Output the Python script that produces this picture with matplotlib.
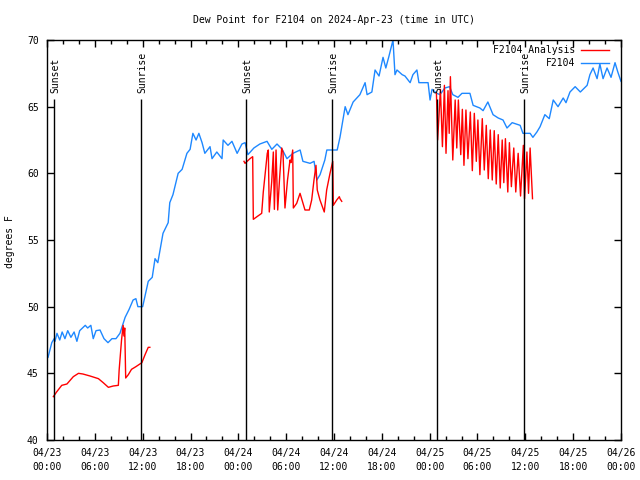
import numpy as np
import matplotlib
matplotlib.use("Agg")
import matplotlib.pyplot as plt

# ---------------- data ----------------
title = "Dew Point for F2104 on 2024-Apr-23 (time in UTC)"
ylabel = "degrees F"

# hours since 2024-04-23 00:00 UTC
obs_hours = [0.13, 0.6, 0.9, 1.0, 1.25, 1.6, 1.9, 2.25, 2.6, 3.0, 3.4, 3.75, 4.1, 4.8, 5.1, 5.5,
             5.8, 6.15, 6.65, 7.15, 7.65, 8.15, 8.65, 9.15, 9.8, 10.3, 10.8, 11.15, 11.4, 12.0,
             12.7, 13.2, 13.55, 13.9, 14.55, 15.2, 15.4, 15.8, 16.45, 16.95, 17.55, 17.95, 18.3,
             18.7, 19.05, 19.45, 19.8, 20.45, 20.7, 21.3, 21.95, 22.1, 22.7, 23.2, 23.85, 24.45,
             24.85, 25.2, 25.95, 26.7, 27.6, 28.2, 28.85, 29.5, 30.1, 30.85, 31.75, 32.1, 33.0,
             33.5, 33.85, 34.25, 34.85, 35.1, 36.4, 36.75, 37.0, 37.4, 37.75, 38.4, 39.25, 39.9,
             40.15, 40.75, 41.15, 41.65, 42.15, 42.5, 42.9, 43.4, 43.65, 43.9, 44.55, 44.9, 45.55,
             45.9, 46.4, 46.65, 47.8, 48.05, 48.3, 48.9, 49.3, 49.9, 50.5, 50.9, 51.55, 52.05,
             53.05, 53.45, 54.3, 54.7, 55.3, 55.95, 56.6, 57.2, 57.7, 58.35, 59.35, 59.7, 60.6,
             60.95, 61.45, 61.85, 62.45, 63.0, 63.5, 64.1, 64.75, 65.1, 65.6, 66.25, 66.9, 67.75,
             68.1, 68.5, 69.0, 69.35, 69.75, 70.25, 70.75, 71.25, 71.6, 72.0]
obs_vals = [46.2, 47.3, 47.6, 47.4, 48.0, 47.5, 48.1, 47.6, 48.2, 47.7, 48.1, 47.4, 48.2, 48.6, 48.4, 48.6,
            47.6, 48.2, 48.25, 47.6, 47.3, 47.6, 47.6, 48.0, 49.2, 49.8, 50.5, 50.6, 50.0, 50.0,
            51.9, 52.2, 53.6, 53.3, 55.5, 56.3, 57.8, 58.4, 60.0, 60.3, 61.5, 61.8, 63.0,
            62.5, 63.0, 62.3, 61.5, 62.0, 61.1, 61.6, 61.1, 62.5, 62.1, 62.4, 61.5, 62.2,
            62.3, 61.4, 61.9, 62.2, 62.4, 61.8, 62.2, 61.8, 61.1, 61.5, 61.75, 60.9, 60.75,
            60.9, 59.5, 59.9, 61.0, 61.75, 61.75, 62.7, 63.6, 65.0, 64.4, 65.35, 65.9, 66.8,
            65.9, 66.1, 67.75, 67.3, 68.7, 67.9, 68.8, 70.0, 67.4, 67.75, 67.4, 67.3, 66.8,
            67.4, 67.75, 66.8, 66.8, 65.5, 66.3, 66.0, 65.9, 66.4, 66.5, 65.9, 65.7, 66.0,
            66.0, 65.1, 64.9, 64.7, 65.35, 64.4, 64.15, 64.0, 63.4, 63.8, 63.6, 63.0, 63.0,
            62.7, 63.1, 63.5, 64.4, 64.1, 65.5, 65.0, 65.65, 65.3, 66.1, 66.5, 66.1, 66.6,
            67.4, 67.9, 67.1, 68.2, 67.1, 67.9, 67.2, 68.3, 67.6, 66.9]

# analysis series, three separate pieces
ana1_hours = [0.8, 1.2, 1.85, 2.5, 3.3, 3.95, 4.5, 5.4, 6.45, 7.05, 7.7, 8.3, 8.95, 9.05,
              9.35, 9.55, 9.65, 9.75, 9.87, 10.2, 10.6, 11.15, 11.9, 12.3, 12.7, 12.9]
ana1_vals = [43.25, 43.6, 44.1, 44.2, 44.75, 45.0, 44.95, 44.8, 44.6, 44.3, 43.95, 44.05, 44.1, 45.25,
             47.5, 48.6, 47.8, 48.4, 44.65, 44.9, 45.3, 45.5, 45.8, 46.4, 46.95, 46.95]

ana2_hours = [24.71, 24.84, 25.46, 25.8, 25.88, 26.34, 26.93, 27.13, 27.63, 27.76, 27.88, 28.19,
              28.39, 28.52, 28.73, 28.94, 29.16, 29.44, 29.6, 29.85, 30.17, 30.48, 30.6, 30.82,
              30.9, 31.32, 31.74, 32.36, 32.9, 33.2, 33.49, 33.74, 33.9, 34.24, 34.78, 35.08,
              35.5, 35.84, 35.91, 36.34, 36.67, 36.75, 36.97]
ana2_vals = [60.9, 60.75, 61.1, 61.25, 56.55, 56.75, 57.0, 58.6, 61.5, 61.75, 57.1, 59.4,
             61.6, 57.3, 61.75, 57.25, 59.5, 61.9, 61.6, 57.4, 59.5, 61.0, 60.8, 61.75,
             57.4, 57.75, 58.5, 57.25, 57.25, 58.0, 59.5, 60.6, 58.75, 58.0, 57.1, 58.75,
             60.0, 60.9, 57.6, 58.0, 58.25, 58.1, 57.9]

ana3_hours = [48.85, 49.0, 49.35, 49.6, 49.85, 50.05, 50.3, 50.45, 50.6, 50.9, 51.2, 51.4, 51.6,
              51.9, 52.1, 52.3, 52.55, 52.8, 53.1, 53.35, 53.6, 53.85, 54.05, 54.3, 54.6, 54.85,
              55.1, 55.35, 55.6, 55.85, 56.1, 56.35, 56.6, 56.85, 57.1, 57.3, 57.5, 57.8, 58.0,
              58.25, 58.55, 58.8, 59.1, 59.4, 59.75, 59.9, 60.2, 60.4, 60.6, 60.9]
ana3_vals = [66.0, 62.5, 66.3, 62.0, 66.6, 61.5, 66.2, 63.0, 67.25, 61.0, 65.5, 61.9, 65.5,
             61.4, 64.8, 60.6, 64.75, 61.1, 64.6, 60.2, 64.5, 60.9, 64.0, 59.9, 64.1, 60.25,
             63.6, 59.6, 63.25, 59.5, 63.2, 59.2, 62.9, 58.9, 62.5, 59.3, 62.6, 58.6, 62.3,
             59.0, 61.9, 58.6, 61.5, 58.3, 62.1, 58.1, 61.6, 58.5, 61.9, 58.1]

sunset_hours = [0.88, 24.95, 48.92]
sunrise_hours = [11.8, 35.75, 59.83]

xtick_hours = list(range(0, 73, 6))
xtick_labels = ["04/23\n00:00", "04/23\n06:00", "04/23\n12:00", "04/23\n18:00",
                "04/24\n00:00", "04/24\n06:00", "04/24\n12:00", "04/24\n18:00",
                "04/25\n00:00", "04/25\n06:00", "04/25\n12:00", "04/25\n18:00",
                "04/26\n00:00"]
ytick_vals = [40, 45, 50, 55, 60, 65, 70]
ytick_labels = ["40", "45", "50", "55", "60", "65", "70"]

legend_labels = ["F2104 Analysis", "F2104"]

# ---------------- style ----------------
plt.rcParams['font.family'] = ['DejaVu Sans Mono']
FS = 7
BLUE = '#1E88FF'
RED = '#FF0000'

fig = plt.figure(figsize=(6.4, 4.8), dpi=100)
ax = fig.add_axes([47/640, 1-440/480, (621-47)/640, 400/480])

ax.plot(obs_hours, obs_vals, color=BLUE, lw=1.0)
for hh, vv in [(ana1_hours, ana1_vals), (ana2_hours, ana2_vals), (ana3_hours, ana3_vals)]:
    ax.plot(hh, vv, color=RED, lw=1.0)

line_top = 65.6
for h in sunset_hours:
    ax.vlines(h, 40, line_top, color='black', lw=1.0)
    ax.text(h + 0.15, line_top + 0.45, "Sunset", rotation=90, ha='center', va='bottom', fontsize=FS)
for h in sunrise_hours:
    ax.vlines(h, 40, line_top, color='black', lw=1.0)
    ax.text(h + 0.15, line_top + 0.45, "Sunrise", rotation=90, ha='center', va='bottom', fontsize=FS)

ax.set_xlim(0, 72)
ax.set_ylim(40, 70)
ax.set_xticks(xtick_hours)
ax.set_xticklabels(xtick_labels, fontsize=FS, linespacing=1.5)
ax.set_xticks(list(range(0, 73, 2)), minor=True)
ax.set_yticks(ytick_vals)
ax.set_yticklabels(ytick_labels, fontsize=FS)
ax.tick_params(axis='x', which='major', direction='in', length=5, width=1, top=True, pad=6)
ax.tick_params(axis='x', which='minor', direction='in', length=3, width=1, top=True)
ax.tick_params(axis='y', which='major', direction='in', length=5, width=1, right=True, pad=6)
for s in ax.spines.values():
    s.set_linewidth(1.0)
    s.set_color('black')

fig.text(334/640, 1-20/480, title, ha='center', va='center', fontsize=FS)
fig.text(10/640, 1-242/480, ylabel, ha='center', va='center', rotation=90, fontsize=FS)

# legend (manual, right-aligned text)
leg_rows = [(1-50/480, RED), (1-63/480, BLUE)]
for (yf, col), lab in zip(leg_rows, legend_labels):
    fig.text(575/640, yf, lab, ha='right', va='center', fontsize=FS)
    fig.add_artist(plt.Line2D([581/640, 609/640], [yf, yf], color=col, lw=1.0,
                              transform=fig.transFigure))

fig.savefig("out.png", dpi=100)
